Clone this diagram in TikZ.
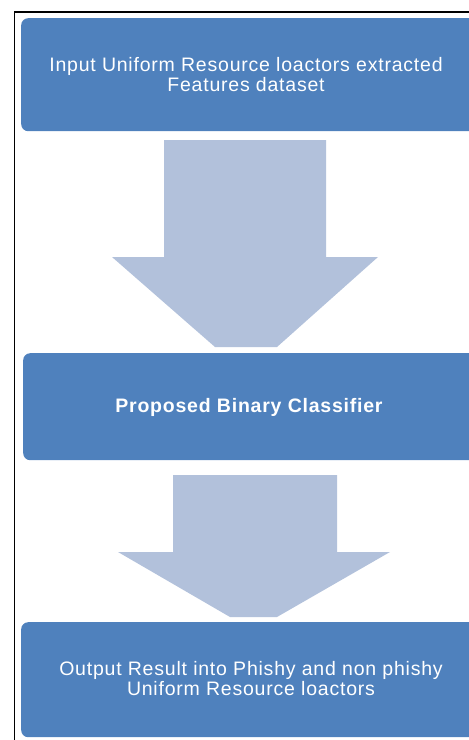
\documentclass[tikz,border=0pt]{standalone}
\usepackage{fontspec}
\newfontfamily\boxfont{Liberation Sans}[LetterSpace=4]
\definecolor{boxblue}{HTML}{4F81BD}
\definecolor{arrowblue}{HTML}{B2C1DB}
\tikzset{
  box/.style={fill=boxblue, draw=none, rounded corners=7pt, anchor=north west, inner sep=0pt},
  txt/.style={text=white, align=center, font=\boxfont\fontsize{19.5pt}{20pt}\selectfont, inner sep=0pt},
  blockarrow/.style={fill=arrowblue, draw=none},
  frame/.style={line width=1.8pt, black}
}
\begin{document}
\begin{tikzpicture}[x=1pt,y=-1pt]
\useasboundingbox (0,0) rectangle (469,740);
\clip (0,0) rectangle (469,740);
% boxes
\node[box, minimum width=480pt, minimum height=113pt] (b1) at (21,18) {};
\node[box, minimum width=480pt, minimum height=107pt] (b2) at (23,353) {};
\node[box, minimum width=480pt, minimum height=115pt] (b3) at (21,622) {};
% texts
\node[txt] (t1) at (246,75) {Input Uniform Resource loactors extracted\\Features dataset};
\node[txt] (t2) at (249,407) {\bfseries Proposed Binary Classifier};
\node[txt] (t3) at (251,679) {Output Result into Phishy and non phishy\\Uniform Resource loactors};
% block arrows
\fill[blockarrow] (164,140) -- (326,140) -- (326,257) -- (378,257) -- (277,347) -- (215,347) -- (112,257) -- (164,257) -- cycle;
\fill[blockarrow] (173,475) -- (337,475) -- (337,552) -- (390,552) -- (277,617) -- (230,617) -- (118,552) -- (173,552) -- cycle;
% frame
\draw[frame] (14.5,740) -- (14.5,11.8) -- (469,11.8);
\end{tikzpicture}
\end{document}
